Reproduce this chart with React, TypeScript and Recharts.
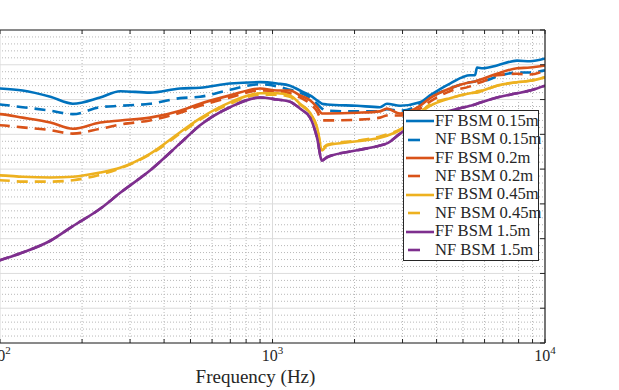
import { CartesianGrid, Legend, Line, LineChart, XAxis, YAxis } from "recharts"

// frequency (Hz) and level (dB)
const freqs = [
  85, 100, 121, 153, 185, 233, 276, 355, 458, 542, 698, 900, 1039, 1159, 1261, 1373, 1457, 1519, 1585, 2042,
  2480, 2630, 2938, 3478, 3784, 4481, 5307, 5536, 5630, 5923, 6665, 7893, 8810, 10000,
]

const ff015 = [
  -8.3, -8.4, -8.7, -9.6, -10.6, -9.7, -8.8, -9.0, -8.4, -8.3, -7.7, -7.5, -7.7, -8.0, -8.7, -9.4, -10.1, -10.6,
  -10.7, -10.9, -11.1, -10.6, -10.9, -10.4, -9.4, -7.7, -6.5, -6.5, -5.4, -5.5, -5.1, -4.4, -4.5, -4.1,
]
const nf015 = [
  -10.6, -10.7, -11.1, -11.6, -12.1, -11.1, -10.9, -10.6, -9.8, -9.6, -8.6, -7.8, -8.1, -8.6, -9.0, -9.7, -10.6,
  -11.3, -11.6, -11.7, -11.7, -11.4, -11.6, -10.7, -9.7, -8.4, -7.5, -7.4, -7.3, -7.3, -6.7, -6.1, -6.1, -5.8,
]
const ff02 = [
  -12.0, -12.1, -12.6, -13.3, -14.2, -13.3, -13.0, -12.6, -11.6, -10.6, -9.4, -8.4, -8.7, -8.7, -9.4, -10.1, -11.1,
  -12.0, -12.0, -11.9, -11.7, -11.3, -12.0, -10.9, -9.8, -8.4, -7.5, -7.4, -7.3, -7.0, -6.3, -5.5, -5.4, -5.1,
]
const nf02 = [
  -13.6, -13.7, -14.0, -14.4, -14.9, -14.2, -13.6, -13.0, -11.9, -10.9, -9.7, -8.7, -8.8, -9.1, -9.7, -10.6, -11.7,
  -13.0, -13.0, -12.9, -12.6, -12.3, -12.3, -11.3, -10.3, -8.8, -8.1, -7.8, -7.7, -7.4, -6.5, -6.3, -6.4, -5.8,
]
const ff045 = [
  -20.9, -20.9, -21.1, -21.2, -21.1, -20.5, -19.8, -17.8, -14.7, -12.7, -10.4, -9.1, -9.1, -9.4, -10.6, -11.9, -14.0,
  -17.3, -16.6, -16.0, -15.5, -15.2, -14.4, -11.9, -10.9, -9.8, -9.1, -9.0, -9.0, -8.7, -8.0, -7.5, -7.3, -6.8,
]
const nf045 = [
  -21.6, -21.6, -21.8, -21.8, -21.6, -20.8, -19.9, -17.9, -14.9, -12.9, -10.6, -9.3, -9.3, -9.6, -10.7, -12.0, -14.0,
  -17.0, -16.5, -15.9, -15.3, -15.0, -14.3, -11.9, -10.7, -9.8, -9.1, -9.0, -8.8, -8.7, -8.0, -7.5, -7.3, -6.8,
]
const ff15 = [
  -34.0, -33.1, -32.0, -30.3, -28.2, -25.7, -23.4, -20.2, -16.3, -13.7, -11.1, -9.7, -10.0, -10.3, -11.3, -12.6,
  -15.5, -18.8, -18.3, -17.3, -16.6, -16.3, -14.9, -13.0, -12.3, -11.6, -10.9, -10.7, -10.6, -10.3, -9.7, -9.1, -8.7,
  -8.0,
]
const nf15 = [
  -34.0, -33.1, -32.0, -30.3, -28.2, -25.7, -23.4, -20.2, -16.3, -13.7, -11.1, -9.7, -10.0, -10.3, -11.3, -12.6,
  -15.5, -18.7, -18.3, -17.3, -16.6, -16.3, -14.9, -13.0, -12.3, -11.6, -10.9, -10.7, -10.6, -10.3, -9.7, -9.1, -8.7,
  -8.0,
]

const xMajor = [100, 1000, 10000]
const xMinor = [80, 90, 200, 300, 400, 500, 600, 700, 800, 900, 2000, 3000, 4000, 5000, 6000, 7000, 8000, 9000]
const yMajor = [-45, -40, -35, -30, -25, -20, -15, -10, -5, 0]
const yMinor = [
  -44, -43, -42, -41, -39, -38, -37, -36, -34, -33, -32, -31, -29, -28, -27, -26, -24, -23, -22, -21, -19, -18, -17,
  -16, -14, -13, -12, -11, -9, -8, -7, -6, -4, -3, -2, -1,
]

const series = [
  { key: "ff015", name: "FF BSM 0.15m", color: "#0072BD", dashed: false, values: ff015 },
  { key: "nf015", name: "NF BSM 0.15m", color: "#0072BD", dashed: true, values: nf015 },
  { key: "ff02", name: "FF BSM 0.2m", color: "#D95319", dashed: false, values: ff02 },
  { key: "nf02", name: "NF BSM 0.2m", color: "#D95319", dashed: true, values: nf02 },
  { key: "ff045", name: "FF BSM 0.45m", color: "#EDB120", dashed: false, values: ff045 },
  { key: "nf045", name: "NF BSM 0.45m", color: "#EDB120", dashed: true, values: nf045 },
  { key: "ff15", name: "FF BSM 1.5m", color: "#7E2F8E", dashed: false, values: ff15 },
  { key: "nf15", name: "NF BSM 1.5m", color: "#7E2F8E", dashed: true, values: nf15 },
]

const rows = freqs.map((f, i) => {
  const row: Record<string, number> = { f }
  series.forEach((s) => (row[s.key] = s.values[i]))
  return row
})

const xTicks = [...xMinor, ...xMajor].sort((a, b) => a - b)
const font = '"Liberation Serif", "Times New Roman", serif'
const ink = "#262626"

function BottomTick(props: any) {
  const { x, y, payload } = props
  const v = payload.value
  const major = xMajor.includes(v)
  return (
    <g>
      <line x1={x} x2={x} y1={y} y2={y - 4} stroke={ink} strokeWidth={1} />
      {major && (
        <text x={x} y={y + 18} textAnchor="middle" fontFamily={font} fontSize={16} fill={ink}>
          10
          <tspan dy={-7} fontSize={11}>
            {Math.round(Math.log10(v))}
          </tspan>
        </text>
      )}
    </g>
  )
}

function TopTick(props: any) {
  const { x, y } = props
  return <line x1={x} x2={x} y1={y} y2={y + 4} stroke={ink} strokeWidth={1} />
}

function RightTick(props: any) {
  const { x, y } = props
  return <line x1={x} x2={x - 5} y1={y} y2={y} stroke={ink} strokeWidth={1} />
}

function LegendBox() {
  return (
    <div
      style={{
        border: `1.3px solid ${ink}`,
        background: "#fff",
        padding: "1px 1px 1px 1px",
        fontFamily: font,
        fontSize: 16.6,
        color: ink,
        boxSizing: "border-box",
        width: 136,
      }}
    >
      {series.map((s) => (
        <div key={s.key} style={{ display: "flex", alignItems: "center", height: 18.4 }}>
          <svg width={30} height={6} style={{ flex: "none" }}>
            <line x1={s.dashed ? 3 : 1} x2={s.dashed ? 15 : 29} y1={3} y2={3} stroke={s.color} strokeWidth={2.6} />
          </svg>
          <span style={{ whiteSpace: "nowrap", lineHeight: 1 }}>{s.name}</span>
        </div>
      ))}
    </div>
  )
}

export default function App() {
  return (
    <div style={{ position: "absolute", left: 0, top: 0, width: 619, height: 390, overflow: "hidden", background: "#fff" }}>
      <div style={{ position: "absolute", left: -34, top: 0 }}>
        <LineChart width={653} height={390} data={rows} margin={{ top: 0, right: 0, bottom: 0, left: 0 }}>
          <CartesianGrid stroke="#b8b8b8" strokeDasharray="1 2" horizontalValues={yMinor} verticalValues={xMinor} />
          <CartesianGrid stroke="#dcdcdc" horizontalValues={yMajor} verticalValues={xMajor} />
          <XAxis
            dataKey="f"
            type="number"
            scale="log"
            domain={[75, 10000]}
            allowDataOverflow
            ticks={xTicks}
            interval={0}
            height={47}
            tickSize={0}
            tickMargin={0}
            tickLine={false}
            axisLine={{ stroke: ink, strokeWidth: 1.2 }}
            tick={<BottomTick />}
            label={{ value: "Frequency (Hz)", position: "insideBottom", offset: 7, fill: ink, fontSize: 19, fontFamily: font }}
          />
          <XAxis
            xAxisId="top"
            orientation="top"
            dataKey="f"
            type="number"
            scale="log"
            domain={[75, 10000]}
            allowDataOverflow
            ticks={xTicks}
            interval={0}
            height={30}
            tickSize={0}
            tickMargin={0}
            tickLine={false}
            axisLine={{ stroke: ink, strokeWidth: 1.2 }}
            tick={<TopTick />}
          />
          <YAxis
            orientation="right"
            type="number"
            domain={[-45, 0]}
            ticks={yMajor}
            interval={0}
            width={74}
            tickSize={0}
            tickMargin={0}
            tickLine={false}
            axisLine={{ stroke: ink, strokeWidth: 1.2 }}
            tick={<RightTick />}
          />
          {series.map((s) => (
            <Line
              key={s.key}
              dataKey={s.key}
              name={s.name}
              stroke={s.color}
              strokeWidth={2.6}
              strokeDasharray={s.dashed ? "11 7" : undefined}
              dot={false}
              activeDot={false}
              type="monotone"
              isAnimationActive={false}
            />
          ))}
          <Legend
            layout="vertical"
            align="center"
            verticalAlign="middle"
            content={() => <LegendBox />}
            wrapperStyle={{ left: 437, top: 110, width: 136 }}
          />
        </LineChart>
      </div>
    </div>
  )
}
